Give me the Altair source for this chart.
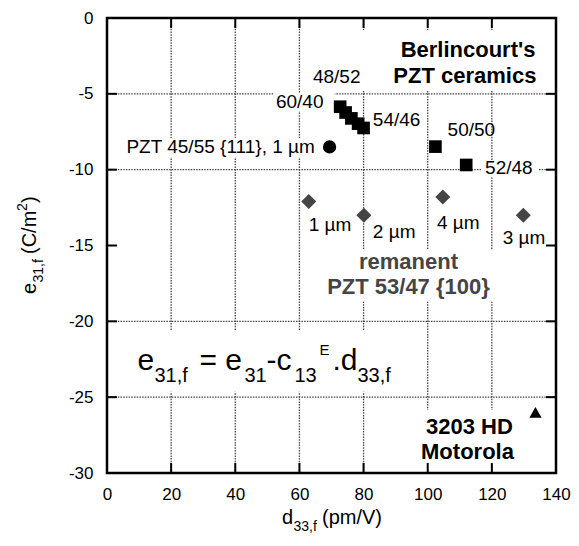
import altair as alt
import pandas as pd

FONT = "Liberation Sans"
W, H = 449, 455

# ---- axis values ----
x_ticks = [0, 20, 40, 60, 80, 100, 120, 140]
y_ticks = [0, -5, -10, -15, -20, -25, -30]
x_inner = [20, 40, 60, 80, 100, 120]
y_inner = [-5, -10, -15, -20, -25]
x_grid = [20, 40, 60, 80, 100, 120]
y_grid = [-5, -10, -20, -25]

# ---- data series ----
berl_x = [72.7, 74.4, 76.2, 78.3, 80.0, 102.4, 112.0]
berl_y = [-5.85, -6.23, -6.62, -6.97, -7.25, -8.48, -9.69]
pzt111_x = [69.4]
pzt111_y = [-8.5]
rem_x = [62.9, 80.1, 104.7, 129.8]
rem_y = [-12.1, -13.0, -11.8, -13.0]
moto_x = [133.6]
moto_y = [-26.0]

# ---- annotations (data coordinates) ----
left_text = ["48/52", "54/46", "50/50", "52/48", "1 µm", "2 µm", "4 µm", "3 µm"]
left_x = [64.2, 82.9, 106.2, 117.9, 62.9, 82.9, 102.9, 123.4]
left_y = [-3.89, -6.72, -7.38, -9.89, -13.65, -14.1, -13.5, -14.5]
right_text = ["60/40", "PZT 45/55 {111}, 1 µm"]
right_x = [67.5, 64.8]
right_y = [-5.54, -8.5]
berl_title = ["Berlincourt's", "PZT ceramics"]
berl_tx = [133.6, 133.9]
berl_ty = [-2.1, -3.8]
rem_title = ["remanent", "PZT 53/47 {100}"]
rem_tx = [94.0, 94.0]
rem_ty = [-16.1, -17.75]
moto_title = ["3203 HD", "Motorola"]
moto_tx = [113.0, 112.4]
moto_ty = [-26.95, -28.6]

# white backgrounds behind text blocks (data coordinates)
box_x1 = [62.3, 52.0, 7.1, 116.7, 65.4, 7.1, 96.7]
box_x2 = [136.6, 71.0, 66.0, 134.5, 123.7, 90.0, 129.3]
box_y1 = [-0.79, -4.94, -7.91, -9.36, -15.3, -20.57, -25.84]
box_y2 = [-4.75, -6.13, -9.16, -10.48, -18.7, -24.65, -29.66]

xscale = alt.Scale(domain=[0, 140], nice=False, zero=False)
yscale = alt.Scale(domain=[-30, 0], nice=False, zero=False)

xaxis = alt.Axis(values=x_ticks, grid=False, domain=False, ticks=False, tickSize=0,
                 labelFont=FONT, labelFontSize=17, labelColor="black",
                 labelPadding=13, labelFlush=False, title=None, format="d")
yaxis = alt.Axis(values=y_ticks, grid=False, domain=False, ticks=False, tickSize=0,
                 labelFont=FONT, labelFontSize=17, labelColor="black",
                 labelPadding=14, labelFlush=False, title=None,
                 labelExpr="datum.value < 0 ? '-' + abs(datum.value) : '' + datum.value")


def X(f="x"):
    return alt.X(f"{f}:Q", scale=xscale, axis=xaxis)


def Y(f="y"):
    return alt.Y(f"{f}:Q", scale=yscale, axis=yaxis)


layers = []

# grid
gx = pd.DataFrame({"x": x_grid})
gy = pd.DataFrame({"y": y_grid})
grid_style = dict(color="#444", strokeWidth=1.3, strokeDash=[1.5, 1.2])
layers.append(alt.Chart(gx).mark_rule(**grid_style).encode(x=X(), y=alt.value(0), y2=alt.value(H)))
layers.append(alt.Chart(gy).mark_rule(**grid_style).encode(y=Y(), x=alt.value(0), x2=alt.value(W)))

# white boxes
boxes = pd.DataFrame({"x": box_x1, "x2": box_x2, "y": box_y1, "y2": box_y2})
layers.append(alt.Chart(boxes).mark_rect(color="white").encode(
    x=X(), x2="x2:Q", y=Y(), y2="y2:Q"))

# inward ticks on all four sides
tx = pd.DataFrame({"x": x_inner})
ty = pd.DataFrame({"y": y_inner})
tick_style = dict(color="black", strokeWidth=2)
layers.append(alt.Chart(tx).mark_rule(**tick_style).encode(x=X(), y=alt.value(0), y2=alt.value(10)))
layers.append(alt.Chart(tx).mark_rule(**tick_style).encode(x=X(), y=alt.value(H), y2=alt.value(H - 10)))
layers.append(alt.Chart(ty).mark_rule(**tick_style).encode(y=Y(), x=alt.value(0), x2=alt.value(10)))
layers.append(alt.Chart(ty).mark_rule(**tick_style).encode(y=Y(), x=alt.value(W), x2=alt.value(W - 10)))

# points
layers.append(alt.Chart(pd.DataFrame({"x": berl_x, "y": berl_y})).mark_point(
    shape="square", filled=True, color="black", size=160, opacity=1).encode(x=X(), y=Y()))
layers.append(alt.Chart(pd.DataFrame({"x": pzt111_x, "y": pzt111_y})).mark_point(
    shape="circle", filled=True, color="black", size=177, opacity=1).encode(x=X(), y=Y()))
layers.append(alt.Chart(pd.DataFrame({"x": rem_x, "y": rem_y})).mark_point(
    shape="diamond", filled=True, color="#454545", size=225, opacity=1).encode(x=X(), y=Y()))
layers.append(alt.Chart(pd.DataFrame({"x": moto_x, "y": moto_y})).mark_point(
    shape="triangle-up", filled=True, color="black", size=150, opacity=1).encode(x=X(), y=Y()))

# labels
layers.append(alt.Chart(pd.DataFrame({"x": left_x, "y": left_y, "t": left_text})).mark_text(
    align="left", baseline="middle", font=FONT, fontSize=19, color="black").encode(x=X(), y=Y(), text="t:N"))
layers.append(alt.Chart(pd.DataFrame({"x": right_x, "y": right_y, "t": right_text})).mark_text(
    align="right", baseline="middle", font=FONT, fontSize=19, color="black").encode(x=X(), y=Y(), text="t:N"))
layers.append(alt.Chart(pd.DataFrame({"x": berl_tx, "y": berl_ty, "t": berl_title})).mark_text(
    align="right", baseline="middle", font=FONT, fontSize=22, fontWeight="bold", color="black").encode(x=X(), y=Y(), text="t:N"))
layers.append(alt.Chart(pd.DataFrame({"x": rem_tx, "y": rem_ty, "t": rem_title})).mark_text(
    align="center", baseline="middle", font=FONT, fontSize=22, fontWeight="bold", color="#454545").encode(x=X(), y=Y(), text="t:N"))
layers.append(alt.Chart(pd.DataFrame({"x": moto_tx, "y": moto_ty, "t": moto_title})).mark_text(
    align="center", baseline="middle", font=FONT, fontSize=22, fontWeight="bold", color="black").encode(x=X(), y=Y(), text="t:N"))

# formula  e_{31,f} = e_{31} - c_{13}^E . d_{33,f}
formula_x, formula_y = 9.5, -23.2
formula_parts = [("e", 0, 0, 30), ("31,f", 17, 12, 20), ("= e", 62, 0, 30), ("31", 107, 12, 20),
                 ("-c", 129, 0, 30), ("13", 157, 12, 20), ("E", 182, -15, 15), (".d", 195, 0, 30),
                 ("33,f", 220, 12, 20)]
for txt, dx, dy, fs in formula_parts:
    layers.append(alt.Chart(pd.DataFrame({"x": [formula_x], "y": [formula_y], "t": [txt]})).mark_text(
        align="left", baseline="alphabetic", font=FONT, fontSize=fs, color="black", dx=dx, dy=dy
    ).encode(x=X(), y=Y(), text="t:N"))

# axis titles with sub/superscripts
xt_parts = [("d", 0, 0, 20), ("33,f", 11.5, 7, 14), ("(pm/V)", 40, 0, 20)]
for txt, dx, dy, fs in xt_parts:
    layers.append(alt.Chart(pd.DataFrame({"t": [txt]})).mark_text(
        align="left", baseline="alphabetic", font=FONT, fontSize=fs, color="black", dx=dx, dy=dy
    ).encode(x=alt.value(175), y=alt.value(506), text="t:N"))

yt_parts = [("e", 0, 0, 20), ("31,f", 11.5, 7, 14), ("(C/m", 40, 0, 20), ("2", 83, -9, 14), (")", 91, 0, 20)]
for txt, dx, dy, fs in yt_parts:
    layers.append(alt.Chart(pd.DataFrame({"t": [txt]})).mark_text(
        align="left", baseline="alphabetic", font=FONT, fontSize=fs, color="black", dx=dx, dy=dy, angle=270
    ).encode(x=alt.value(-71), y=alt.value(276), text="t:N"))

chart = alt.layer(*layers).properties(
    width=W, height=H,
    autosize=alt.AutoSizeParams(type="none"),
    padding={"left": 99, "top": 10, "right": 15, "bottom": 62},
    background="white",
).configure_view(stroke="black", strokeWidth=2.5)

chart.save("out.html", embed_options={"renderer": "svg", "actions": False})
